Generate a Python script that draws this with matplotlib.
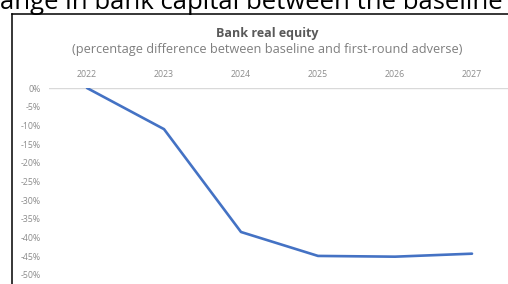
import matplotlib
matplotlib.use("Agg")
from matplotlib import pyplot as plt
from matplotlib.lines import Line2D
from matplotlib.ticker import FuncFormatter

plt.rcParams['font.family'] = ['Open Sans', 'DejaVu Sans']

years = ['2022', '2023', '2024', '2025', '2026', '2027']
equity = [0.0, -11.0, -38.5, -44.9, -45.1, -44.3]
y_ticks = [0, -5, -10, -15, -20, -25, -30, -35, -40, -45, -50]

W, H = 508, 284
fig = plt.figure(figsize=(W / 100, H / 100), dpi=100)

# axes placed in pixel terms
left, right, top, bottom = 48.5, 510.5, 88, 275
ax = fig.add_axes([left / W, 1 - bottom / H, (right - left) / W, (bottom - top) / H])

x = range(len(years))
ax.plot(x, equity, color='#4472C4', lw=1.9, solid_capstyle='round', zorder=3)
ax.axhline(0, color='#d9d9d9', lw=1.0, zorder=1)

ax.set_xlim(-0.5, len(years) - 0.5)
ax.set_ylim(-50, 0)
ax.set_xticks(list(x))
ax.set_xticklabels(years)
ax.xaxis.tick_top()
ax.set_yticks(y_ticks)
ax.yaxis.set_major_formatter(FuncFormatter(lambda v, _: f'{v:.0f}%'))
ax.tick_params(axis='x', length=0, pad=6.5, labelsize=6.3, labelcolor='#8c8c8c')
ax.tick_params(axis='y', length=0, pad=5.4, labelsize=6.3, labelcolor='#8c8c8c')
for s in ax.spines.values():
    s.set_visible(False)
ax.patch.set_alpha(0)

# titles
fig.text(267 / W, 1 - 33 / H, 'Bank real equity', ha='center', va='center',
         fontsize=9, fontweight='bold', color='#595959')
fig.text(267 / W, 1 - 50 / H,
         '(percentage difference between baseline and first-round adverse)',
         ha='center', va='center', fontsize=9.2, color='#7f7f7f')

# cropped heading above the box
fig.text(0, 1 - 9 / H, 'ange in bank capital between the baseline',
         ha='left', va='baseline', fontsize=18.5, color='black')

# box border
fig.add_artist(Line2D([12 / W, 12 / W], [1 - 14 / H, 0], color='black', lw=1.1,
                      transform=fig.transFigure))
fig.add_artist(Line2D([12 / W, 1], [1 - 14 / H, 1 - 14 / H], color='black', lw=1.1,
                      transform=fig.transFigure))

fig.savefig('out.png', dpi=100)
